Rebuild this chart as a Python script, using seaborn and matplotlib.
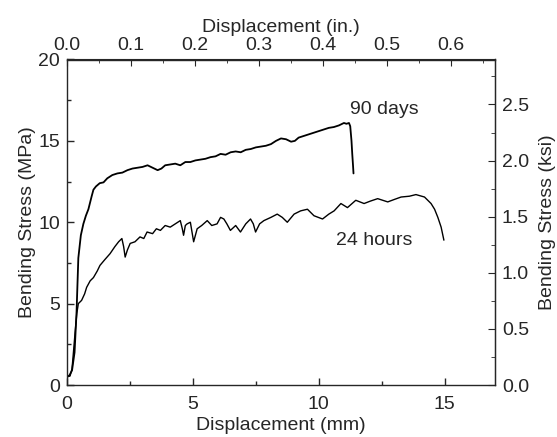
import matplotlib
matplotlib.use("Agg")
import matplotlib.pyplot as plt
import seaborn as sns
import pandas as pd
from matplotlib.ticker import MultipleLocator, FormatStrFormatter

# ---- data ----
x_90days = [0.0, 0.1, 0.2, 0.3, 0.38, 0.45, 0.55, 0.65, 0.75, 0.85,
            0.98, 1.05, 1.15, 1.3, 1.45, 1.6, 1.8, 2.0, 2.2, 2.4,
            2.6, 2.8, 3.0, 3.2, 3.4, 3.6, 3.75, 3.9, 4.1, 4.3,
            4.5, 4.7, 4.9, 5.1, 5.3, 5.5, 5.7, 5.9, 6.1, 6.3,
            6.5, 6.7, 6.9, 7.1, 7.3, 7.5, 7.7, 7.9, 8.1, 8.3,
            8.5, 8.7, 8.9, 9.05, 9.2, 9.4, 9.6, 9.8, 10.0, 10.2,
            10.4, 10.6, 10.8, 11.0, 11.1, 11.2, 11.25, 11.3, 11.33, 11.36,
            11.38]
y_90days = [0.5, 0.6, 0.9, 2.0, 4.5, 7.8, 9.2, 9.9, 10.4, 10.8,
            11.6, 12.0, 12.2, 12.4, 12.45, 12.7, 12.9, 13.0, 13.05, 13.2,
            13.3, 13.35, 13.4, 13.5, 13.35, 13.2, 13.3, 13.5, 13.55, 13.6,
            13.5, 13.7, 13.7, 13.8, 13.85, 13.9, 14.0, 14.05, 14.2, 14.15,
            14.3, 14.35, 14.3, 14.45, 14.5, 14.6, 14.65, 14.7, 14.8, 15.0,
            15.15, 15.1, 14.95, 15.0, 15.2, 15.3, 15.4, 15.5, 15.6, 15.7,
            15.8, 15.85, 15.95, 16.1, 16.05, 16.1, 15.9, 15.0, 14.2, 13.5,
            13.0]

x_24hours = [0.0, 0.12, 0.2, 0.25, 0.32, 0.39, 0.45, 0.58, 0.7, 0.78,
             0.92, 1.05, 1.2, 1.31, 1.5, 1.71, 1.9, 2.05, 2.18, 2.25,
             2.31, 2.4, 2.51, 2.7, 2.9, 3.05, 3.18, 3.4, 3.55, 3.71,
             3.9, 4.1, 4.3, 4.5, 4.58, 4.63, 4.7, 4.77, 4.9, 5.03,
             5.17, 5.35, 5.57, 5.75, 5.96, 6.1, 6.23, 6.35, 6.49, 6.7,
             6.89, 7.1, 7.29, 7.4, 7.49, 7.65, 7.82, 8.1, 8.35, 8.55,
             8.75, 9.02, 9.28, 9.55, 9.81, 10.15, 10.4, 10.61, 10.88, 11.14,
             11.47, 11.8, 12.05, 12.34, 12.74, 13.0, 13.27, 13.6, 13.86, 14.2,
             14.46, 14.6, 14.73, 14.86, 14.97]
y_24hours = [0.5, 0.55, 1.0, 1.9, 3.2, 4.4, 5.0, 5.2, 5.6, 6.0,
             6.4, 6.6, 7.0, 7.35, 7.7, 8.07, 8.5, 8.8, 9.0, 8.5,
             7.86, 8.3, 8.7, 8.8, 9.1, 9.0, 9.4, 9.3, 9.6, 9.5,
             9.8, 9.7, 9.9, 10.1, 9.6, 9.2, 9.8, 9.9, 10.0, 8.8,
             9.6, 9.8, 10.1, 9.8, 9.9, 10.3, 10.2, 9.9, 9.5, 9.8,
             9.4, 9.9, 10.2, 9.9, 9.4, 9.9, 10.1, 10.3, 10.5, 10.3,
             10.0, 10.5, 10.7, 10.8, 10.4, 10.2, 10.5, 10.7, 11.15, 10.9,
             11.35, 11.15, 11.3, 11.45, 11.25, 11.4, 11.55, 11.6, 11.7, 11.55,
             11.15, 10.8, 10.3, 9.7, 8.9]

series_labels = ["90 days", "24 hours"]

MM_PER_IN = 25.4
MPA_PER_KSI = 6.894757
FS = 14

df90 = pd.DataFrame({"disp": x_90days, "stress": y_90days})
df24 = pd.DataFrame({"disp": x_24hours, "stress": y_24hours})

sns.set_style("ticks")
plt.rcParams["font.family"] = ["Liberation Sans", "DejaVu Sans"]
plt.rcParams["xtick.direction"] = "in"
plt.rcParams["ytick.direction"] = "in"

fig = plt.figure(figsize=(5.57, 4.37), dpi=100)
ax = fig.add_axes([67 / 557, 1 - 385 / 437, (495 - 67) / 557, (385 - 59.5) / 437])

sns.lineplot(data=df90, x="disp", y="stress", color="black",
             estimator=None, sort=False, linewidth=1.3, ax=ax)
sns.lineplot(data=df24, x="disp", y="stress", color="black",
             estimator=None, sort=False, linewidth=1.0, ax=ax)

ax.set_xlim(0, 17)
ax.set_ylim(0, 20)
ax.xaxis.set_major_locator(MultipleLocator(5))
ax.xaxis.set_minor_locator(MultipleLocator(2.5))
ax.yaxis.set_major_locator(MultipleLocator(5))
ax.yaxis.set_minor_locator(MultipleLocator(2.5))
ax.set_xlabel("Displacement (mm)", fontsize=FS, labelpad=3)
ax.set_ylabel("Bending Stress (MPa)", fontsize=FS, labelpad=2)
ax.tick_params(which="both", direction="in", labelsize=FS, width=1)
ax.tick_params(axis="x", pad=8)
ax.tick_params(axis="y", pad=5)
ax.tick_params(which="major", length=5)
ax.tick_params(which="minor", length=3)
for s in ax.spines.values():
    s.set_linewidth(1.0)
    s.set_visible(True)

top = ax.secondary_xaxis("top", functions=(lambda v: v / MM_PER_IN, lambda v: v * MM_PER_IN))
top.xaxis.set_major_locator(MultipleLocator(0.1))
top.xaxis.set_minor_locator(MultipleLocator(0.05))
top.set_xlabel("Displacement (in.)", fontsize=FS, labelpad=3.5)
top.tick_params(which="both", direction="in", labelsize=FS, pad=4.3)
top.tick_params(which="major", length=5)
top.tick_params(which="minor", length=3)
top.xaxis.set_major_formatter(FormatStrFormatter("%.1f"))

right = ax.secondary_yaxis("right", functions=(lambda v: v / MPA_PER_KSI, lambda v: v * MPA_PER_KSI))
right.yaxis.set_major_locator(MultipleLocator(0.5))
right.yaxis.set_minor_locator(MultipleLocator(0.25))
right.set_ylabel("Bending Stress (ksi)", fontsize=FS, labelpad=7)
right.tick_params(which="both", direction="in", labelsize=FS, pad=5)
right.tick_params(which="major", length=5)
right.tick_params(which="minor", length=3)
right.yaxis.set_major_formatter(FormatStrFormatter("%.1f"))

ax.text(12.6, 16.9, series_labels[0], fontsize=FS, ha="center", va="center")
ax.text(12.2, 8.9, series_labels[1], fontsize=FS, ha="center", va="center")

fig.savefig("out.png", dpi=100)
